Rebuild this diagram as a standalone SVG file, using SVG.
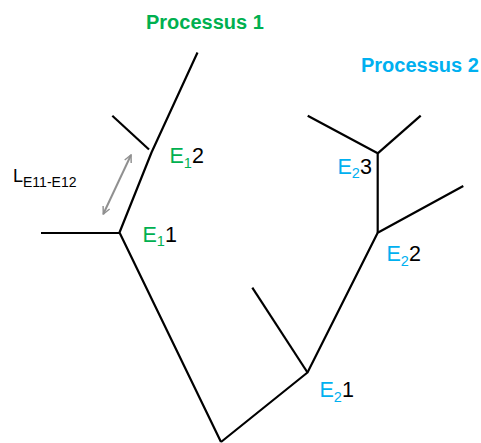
<svg xmlns="http://www.w3.org/2000/svg" width="481" height="443" viewBox="0 0 481 443">
<style>
.ln{stroke:#000;stroke-width:2.2;fill:none;stroke-linecap:butt;stroke-linejoin:round}
.t{font-family:"Liberation Sans",Arial,sans-serif;font-size:21.5px;fill:#000}
.title{font-family:"Liberation Sans",Arial,sans-serif;font-size:20px;font-weight:bold}
.g{fill:#00B050}
.b{fill:#00B0F0}
.sub{font-size:14.5px}
</style>
<defs>
<marker id="ah" viewBox="0 0 10 10" refX="9" refY="5" markerWidth="9" markerHeight="9" markerUnits="userSpaceOnUse" orient="auto-start-reverse">
<path d="M1,1 L9,5 L1,9" fill="none" stroke="#909090" stroke-width="1.6"/>
</marker>
</defs>
<rect width="481" height="443" fill="#fff"/>
<g id="connectors">
<path class="ln" d="M221,442 L119.5,232.5 L151.5,152.5 L197.5,52.5"/>
<path class="ln" d="M41,233 L119.5,233"/>
<path class="ln" d="M112.3,115.7 L149,149.5"/>
<path class="ln" d="M221,442 L307.5,372.5 L377.7,232.7 L463.3,186"/>
<path class="ln" d="M252.3,287.7 L307.5,372.5"/>
<path class="ln" d="M377.7,232.7 L377.7,153.3 L307.7,115.7"/>
<path class="ln" d="M377.7,153.3 L420.7,115.7"/>
<line x1="131" y1="155" x2="103.3" y2="214" stroke="#909090" stroke-width="2" marker-start="url(#ah)" marker-end="url(#ah)"/>
</g>
<g id="processus1"><text class="title g" x="146" y="28.5">Processus 1</text></g>
<g id="processus2"><text class="title b" x="361" y="72">Processus 2</text></g>
<g id="E12"><text class="t" x="169.5" y="163"><tspan class="g">E</tspan><tspan class="g sub" dy="4.5">1</tspan><tspan dy="-4.5">2</tspan></text></g>
<g id="E11"><text class="t" x="142.5" y="241.5"><tspan class="g">E</tspan><tspan class="g sub" dy="4.5">1</tspan><tspan dy="-4.5">1</tspan></text></g>
<g id="E23"><text class="t" x="337.5" y="173.5"><tspan class="b">E</tspan><tspan class="b sub" dy="4.5">2</tspan><tspan dy="-4.5">3</tspan></text></g>
<g id="E22"><text class="t" x="386.5" y="261"><tspan class="b">E</tspan><tspan class="b sub" dy="4.5">2</tspan><tspan dy="-4.5">2</tspan></text></g>
<g id="E21"><text class="t" x="319.5" y="397"><tspan class="b">E</tspan><tspan class="b sub" dy="4.5">2</tspan><tspan dy="-4.5">1</tspan></text></g>
<g id="L"><text class="t" x="13" y="182" font-size="18"><tspan font-size="18">L</tspan><tspan font-size="15" dy="5" textLength="53.5" lengthAdjust="spacingAndGlyphs">E11-E12</tspan></text></g>
</svg>
